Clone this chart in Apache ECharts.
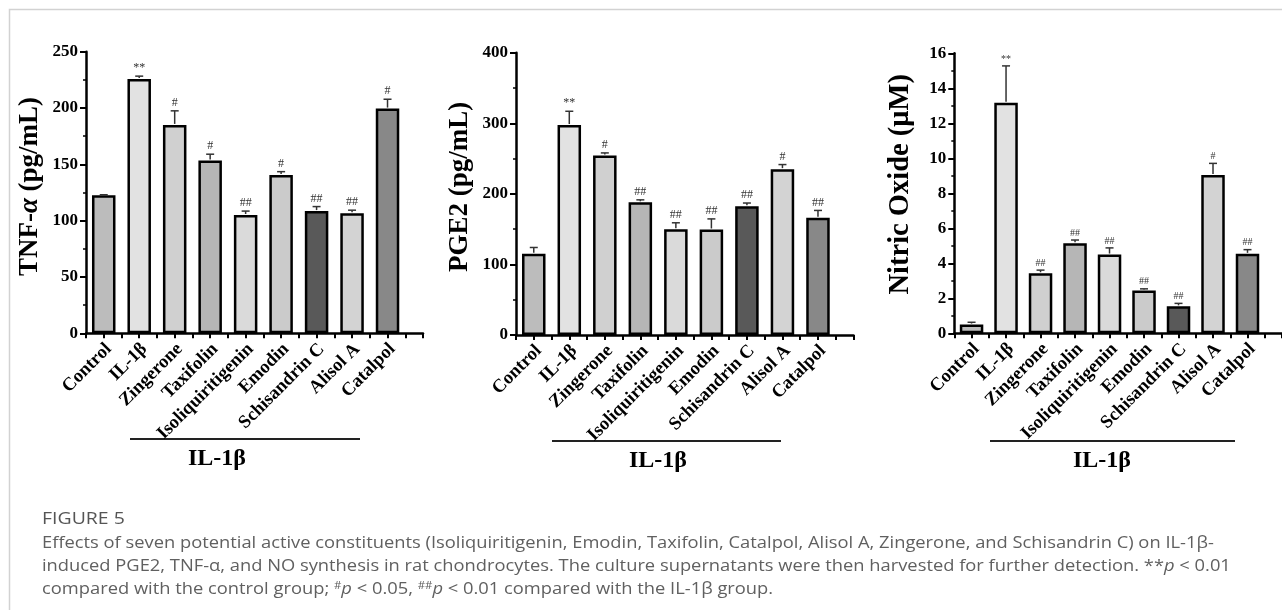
<!DOCTYPE html>
<html><head><meta charset="utf-8">
<script src="https://cdn.jsdelivr.net/npm/echarts@6/dist/echarts.min.js"></script>
<style>html,body{margin:0;padding:0;background:#fff}#c{width:1282px;height:610px}</style>
</head><body><div id="c"></div>
<script>
// ---------- data ----------
const categories = ['Control', 'IL-1β', 'Zingerone', 'Taxifolin', 'Isoliquiritigenin', 'Emodin', 'Schisandrin C', 'Alisol A', 'Catalpol'];

const tnfValues = [122.5, 225.8, 185, 153.5, 105, 140.5, 108.5, 106.5, 199.5];
const tnfErrors = [0.5, 2.5, 12.5, 5.5, 3.5, 3, 4, 2.8, 8.3];
const tnfMarks  = ['', '**', '#', '#', '##', '#', '##', '##', '#'];
const tnfTicks  = [0, 50, 100, 150, 200, 250];

const pgeValues = [115, 297.5, 254.5, 188, 150, 149.5, 182.5, 235, 166];
const pgeErrors = [9, 19.5, 3.5, 3.5, 9, 15, 4.5, 6.5, 10.5];
const pgeMarks  = ['', '**', '#', '##', '##', '##', '##', '#', '##'];
const pgeTicks  = [0, 100, 200, 300, 400];

const noValues = [0.5, 13.18, 3.43, 5.14, 4.5, 2.44, 1.54, 9.05, 4.54];
const noErrors = [0.13, 2.1, 0.18, 0.19, 0.38, 0.1, 0.17, 0.66, 0.24];
const noMarks  = ['', '**', '##', '##', '##', '##', '##', '#', '##'];
const noTicks  = [0, 2, 4, 6, 8, 10, 12, 14, 16];

const groupLabel = 'IL-1β';

// ---------- styles ----------
const barColors = ['#bcbcbc', '#e2e2e2', '#d0d0d0', '#b6b6b6', '#dadada', '#cbcbcb', '#595959', '#d3d3d3', '#888888'];
const SERIF = '"Liberation Serif", "Times New Roman", serif';

const panels = [
  { values: tnfValues, errors: tnfErrors, marks: tnfMarks, ticks: tnfTicks,
    name: '{b|TNF-}{i|α}{b| (pg/mL)}', nameGap: 42, markSize: 12, nameSize: 27, namePad: 12,
    grid: { left: 86, top: 51.7, width: 337, height: 281.6 } },
  { values: pgeValues, errors: pgeErrors, marks: pgeMarks, ticks: pgeTicks,
    name: '{b|PGE2 (pg/mL)}', nameGap: 42, markSize: 12, nameSize: 27, namePad: 14,
    grid: { left: 516, top: 52.7, width: 337.5, height: 282.3 } },
  { values: noValues, errors: noErrors, marks: noMarks, ticks: noTicks,
    name: '{b|Nitric Oxide (μM)}', nameGap: 39, markSize: 10, nameSize: 28.5, namePad: 18,
    grid: { left: 954.3, top: 53.3, width: 332.5, height: 280 } }
];

const grids = [], xAxes = [], yAxes = [], series = [];
panels.forEach((p, i) => {
  const nameRich = {
    b: { fontFamily: SERIF, fontWeight: 'bold', fontSize: p.nameSize, color: '#000' },
    i: { fontFamily: SERIF, fontWeight: 'bold', fontStyle: 'italic', fontSize: p.nameSize, color: '#000' }
  };
  grids.push(Object.assign({ containLabel: false }, p.grid));
  xAxes.push({
    type: 'value', gridIndex: i, min: 0.5, max: 10, interval: 0.5,
    axisLine: { show: true, onZero: false, lineStyle: { color: '#000', width: 2.5 } },
    axisTick: { show: true, length: 5, lineStyle: { color: '#000', width: 2 } },
    splitLine: { show: false },
    axisLabel: { show: false }
  });
  const t = p.ticks;
  yAxes.push({
    type: 'value', gridIndex: i, min: t[0], max: t[t.length - 1], interval: t[1] - t[0],
    axisLine: { show: true, onZero: false, lineStyle: { color: '#000', width: 2.5 } },
    axisTick: { show: true, length: 6, lineStyle: { color: '#000', width: 2 } },
    minorTick: { show: true, splitNumber: 2, length: 3, lineStyle: { color: '#000', width: 1.5 } },
    splitLine: { show: false },
    axisLabel: { margin: 8, color: '#000', fontFamily: SERIF, fontWeight: 'bold', fontSize: 17 },
    name: p.name, nameLocation: 'middle', nameGap: p.nameGap,
    nameTextStyle: { rich: nameRich, padding: [0, 0, 0, p.namePad] }
  });
  series.push({
    type: 'bar', xAxisIndex: i, yAxisIndex: i, barWidth: 23.5, silent: true,
    itemStyle: { borderColor: '#000', borderWidth: 2.5 },
    data: p.values.map((v, k) => ({ value: [k + 1, v], itemStyle: { color: barColors[k] } }))
  });
  series.push({
    type: 'custom', xAxisIndex: i, yAxisIndex: i, silent: true, z: 5, clip: false,
    data: p.values.map((v, k) => [k + 1, v, p.errors[k]]),
    renderItem: (params, api) => {
      const x = api.value(0), y = api.value(1), e = api.value(2);
      const a = api.coord([x, y]);
      const b = api.coord([x, y + e]);
      const base = api.coord([x, t[0]]);
      const mark = p.marks[params.dataIndex];
      const st = { stroke: '#333', lineWidth: 1.5 };
      return {
        type: 'group',
        children: [
          { type: 'line', shape: { x1: a[0], y1: a[1] - 1, x2: b[0], y2: b[1] }, style: st },
          { type: 'line', shape: { x1: b[0] - 4, y1: b[1], x2: b[0] + 4, y2: b[1] }, style: st },
          { type: 'text', x: b[0], y: b[1] - 2,
            style: { text: mark, fontFamily: SERIF, fontSize: p.markSize, fill: '#333',
                     align: 'center', verticalAlign: 'bottom' } },
          { type: 'text', x: base[0] + 5, y: base[1] + 13, rotation: Math.PI / 4,
            style: { text: categories[params.dataIndex], fontFamily: SERIF, fontWeight: 'bold',
                     fontSize: 18.5, fill: '#000', align: 'right', verticalAlign: 'middle' } }
        ]
      };
    }
  });
});

// ---------- annotations (group brackets, caption, frame) ----------
const brackets = [
  { x1: 130, x2: 360, y: 439, tx: 217 },
  { x1: 552, x2: 781, y: 441, tx: 658 },
  { x1: 990, x2: 1235, y: 441, tx: 1102 }
];
const graphics = [
  { type: 'rect', shape: { x: 9.5, y: 9.5, width: 1400, height: 800 },
    style: { fill: 'none', stroke: '#d2d2d2', lineWidth: 1.5 }, silent: true }
];
brackets.forEach(b => {
  graphics.push({ type: 'line', shape: { x1: b.x1, y1: b.y, x2: b.x2, y2: b.y },
    style: { stroke: '#222', lineWidth: 1.8 }, silent: true });
  graphics.push({ type: 'text', x: b.tx, y: b.y + 8,
    style: { text: groupLabel, fontFamily: SERIF, fontWeight: 'bold', fontSize: 24, fill: '#000',
             align: 'center', verticalAlign: 'top' }, silent: true });
});
const CAP = '"Open Sans", "Noto Sans", sans-serif';
const capColor = '#606060';
const capRich = {
  s: { fontFamily: CAP, fontSize: 10, fill: capColor, verticalAlign: 'top', padding: [0, 0, 6, 0] },
  i: { fontFamily: CAP, fontSize: 16, fontStyle: 'italic', fill: capColor }
};
const capLines = [
  'Effects of seven potential active constituents (Isoliquiritigenin, Emodin, Taxifolin, Catalpol, Alisol A, Zingerone, and Schisandrin C) on IL-1β-',
  'induced PGE2, TNF-α, and NO synthesis in rat chondrocytes. The culture supernatants were then harvested for further detection. **{i|p} < 0.01',
  'compared with the control group; {s|#}{i|p} < 0.05, {s|##}{i|p} < 0.01 compared with the IL-1β group.'
];
const SX = 1.145;
graphics.push({ type: 'text', x: 42, y: 519, scaleX: SX,
  style: { text: 'FIGURE 5', fontFamily: CAP, fontSize: 17, fill: '#555', verticalAlign: 'middle' }, silent: true });
capLines.forEach((s, k) => {
  graphics.push({ type: 'text', x: 42, y: 543 + k * 23, scaleX: SX,
    style: { text: s, rich: capRich, fontFamily: CAP, fontSize: 16, fill: capColor, verticalAlign: 'middle' }, silent: true });
});

const chart = echarts.init(document.getElementById('c'), null, { renderer: 'canvas' });
chart.setOption({
  animation: false,
  backgroundColor: '#fff',
  grid: grids, xAxis: xAxes, yAxis: yAxes, series: series,
  graphic: graphics
});
</script></body></html>
